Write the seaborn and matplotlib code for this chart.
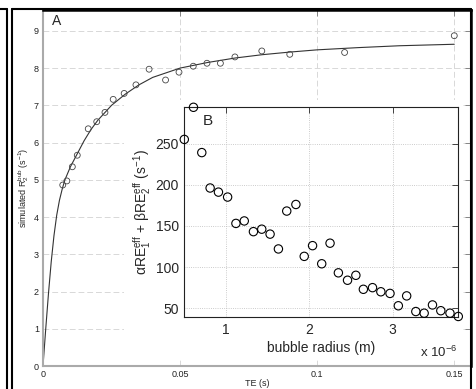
import numpy as np
import pandas as pd
import seaborn as sns
import matplotlib
matplotlib.use("Agg")
import matplotlib.pyplot as plt
from matplotlib.lines import Line2D
from matplotlib.patches import Rectangle

# panel A: simulated R2 vs echo time
te = [0.0072, 0.0087, 0.0107, 0.0125, 0.0165, 0.0196, 0.0226, 0.0256, 0.0296,
      0.0339, 0.0387, 0.0447, 0.0496, 0.0548, 0.0598, 0.0647, 0.0700, 0.0798,
      0.0900, 0.1100, 0.1500]
r2_bub = [4.86, 4.97, 5.35, 5.66, 6.37, 6.56, 6.81, 7.16, 7.32,
          7.55, 7.97, 7.68, 7.89, 8.05, 8.13, 8.13, 8.30, 8.46,
          8.37, 8.42, 8.87]

# fitted curve
fit_te = [0, 0.001, 0.002, 0.003, 0.004, 0.005, 0.006, 0.007, 0.008, 0.010,
          0.0125, 0.015, 0.0175, 0.020, 0.025, 0.030, 0.035, 0.040, 0.050,
          0.060, 0.070, 0.080, 0.090, 0.100, 0.115, 0.130, 0.150]
fit_r2 = [0, 1.0, 1.95, 2.8, 3.5, 4.05, 4.45, 4.75, 5.0, 5.35,
          5.7, 6.05, 6.35, 6.6, 7.0, 7.3, 7.55, 7.75, 8.0,
          8.15, 8.27, 8.36, 8.43, 8.49, 8.55, 8.6, 8.64]

# panel B: relaxation efficiency vs bubble radius (x 1e-6 m)
radius = [0.50, 0.61, 0.71, 0.81, 0.91, 1.02, 1.12, 1.22, 1.33, 1.43, 1.53,
          1.63, 1.73, 1.84, 1.94, 2.04, 2.15, 2.25, 2.35, 2.46, 2.56, 2.65,
          2.76, 2.86, 2.97, 3.07, 3.17, 3.28, 3.38, 3.48, 3.58, 3.69, 3.79]
relax = [255, 294, 239, 196, 191, 185, 153, 156, 143, 146, 140,
         122, 168, 176, 113, 126, 104, 129, 93, 84, 90, 73,
         75, 70, 68, 53, 65, 46, 44, 54, 47, 44, 40]

W, H = 477, 389
sns.set_style("white")
plt.rcParams['font.family'] = ['Liberation Sans', 'DejaVu Sans']
plt.rcParams['mathtext.fontset'] = 'custom'
plt.rcParams['mathtext.rm'] = 'Liberation Sans'
plt.rcParams['mathtext.it'] = 'Liberation Sans'

fig = plt.figure(figsize=(W / 100, H / 100), dpi=100)


def box(x0, y0, x1, y1):
    # pixel box (top-left origin) -> figure fraction rect
    return [x0 / W, 1 - y1 / H, (x1 - x0) / W, (y1 - y0) / H]


# main axes
ax = fig.add_axes(box(43, 10, 471, 366))
ax.set_zorder(0)
df_a = pd.DataFrame({'te': te, 'r2': r2_bub})
df_fit = pd.DataFrame({'te': fit_te, 'r2': fit_r2})
sns.lineplot(data=df_fit, x='te', y='r2', ax=ax, color='#333333', lw=0.8)
sns.scatterplot(data=df_a, x='te', y='r2', ax=ax, marker='o', s=18,
                facecolors='none', edgecolor='#444444', linewidth=0.6, zorder=3)
ax.set_xlim(0, 0.1561)
ax.set_ylim(0, 9.56)
ax.set_xticks([0, 0.05, 0.1, 0.15])
ax.set_xticklabels(['0', '0.05', '0.1', '0.15'])
ax.set_yticks(range(0, 10))
ax.grid(True, ls=(0, (6, 3)), color='#d8d8d8', lw=0.7)
ax.tick_params(direction='in', length=4, width=0.6, colors='#777777',
               labelcolor='#222222', labelsize=6.5, top=True, right=True, pad=3)
for s in ['left', 'bottom']:
    ax.spines[s].set_color('#aaaaaa')
    ax.spines[s].set_linewidth(1.5)
for s in ['top', 'right']:
    ax.spines[s].set_color('black')
    ax.spines[s].set_linewidth(1.8)
ax.set_xlabel('TE (s)', fontsize=6.5, labelpad=0)
ax.set_ylabel('simulated R$_2^{bub}$ (s$^{-1}$)', fontsize=6.5, labelpad=2)
fig.text(52 / W, 1 - 25 / H, 'A', fontsize=10)

# white backing behind the inset
fig.add_artist(Rectangle((124 / W, 1 - 358 / H), (463 - 124) / W, (358 - 100) / H,
                         transform=fig.transFigure, facecolor='white',
                         edgecolor='none', zorder=0.5))

# inset axes
ax2 = fig.add_axes(box(184.3, 107.3, 458.3, 317.3))
ax2.set_zorder(1)
df_b = pd.DataFrame({'radius': radius, 'relax': relax})
sns.scatterplot(data=df_b, x='radius', y='relax', ax=ax2, marker='o', s=36,
                facecolors='none', edgecolor='black', linewidth=0.8,
                clip_on=False, zorder=3)
ax2.set_xlim(0.5, 3.79)
ax2.set_ylim(39, 294)
ax2.set_xticks([1, 2, 3])
ax2.set_yticks([50, 100, 150, 200, 250])
ax2.grid(True, ls=':', color='#bbbbbb', lw=0.6)
ax2.tick_params(direction='in', length=4, width=0.6, labelsize=10,
                top=True, right=True, pad=4)
for s in ax2.spines.values():
    s.set_color('#222222')
    s.set_linewidth(0.8)
ax2.set_xlabel('bubble radius (m)', fontsize=10, labelpad=3)
ax2.set_ylabel(r'$\alpha$RE$_1^{eff}$ + $\beta$RE$_2^{eff}$ (s$^{-1}$)',
               fontsize=10, labelpad=2)
fig.text(420 / W, 1 - 357 / H, 'x 10$^{-6}$', fontsize=9.5)
fig.text(203 / W, 1 - 125 / H, 'B', fontsize=11)

# outer frame
frame = [((7, 7), (9, H)), ((0, 7), (9, 9)), ((12, 12), (9, H)),
         ((12, 471), (9, 9)), ((471, 471), (9, H))]
for xs, ys in frame:
    fig.add_artist(Line2D([x / W for x in xs], [1 - y / H for y in ys],
                          transform=fig.transFigure, color='black', lw=1.5,
                          zorder=5))

fig.savefig('out.png', dpi=100)
